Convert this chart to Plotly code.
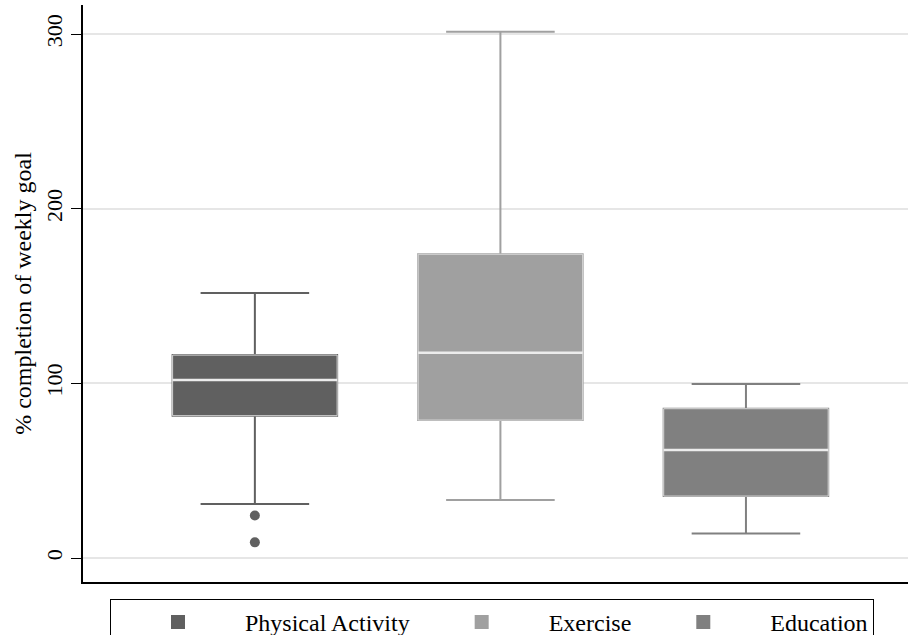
import plotly.graph_objects as go

categories = ["Physical Activity", "Exercise", "Education"]
q1 = [81.5, 79.0, 35.5]
median = [101.9, 117.5, 61.8]
q3 = [116.2, 173.9, 85.5]
lower_whisker = [30.9, 33.2, 14.1]
upper_whisker = [151.7, 301.3, 99.6]
outlier_cat = ["Physical Activity", "Physical Activity"]
outlier_val = [24.4, 9.0]
colors = ["#606060", "#a0a0a0", "#808080"]

FONT = "Liberation Serif, Times New Roman, serif"
BOXW = 0.67

fig = go.Figure()
for i, c in enumerate(categories):
    fig.add_trace(go.Box(
        x=[c], q1=[q1[i]], median=[median[i]], q3=[q3[i]],
        lowerfence=[lower_whisker[i]], upperfence=[upper_whisker[i]],
        name=c, width=BOXW, whiskerwidth=0.66,
        fillcolor=colors[i], line=dict(color=colors[i], width=2),
        boxpoints=False, showlegend=True, hoverinfo="skip",
    ))
for i, c in enumerate(categories):
    fig.add_trace(go.Box(
        x=[c], q1=[q1[i]], median=[median[i]], q3=[q3[i]],
        lowerfence=[q1[i]], upperfence=[q3[i]],
        width=BOXW, whiskerwidth=0, fillcolor="rgba(0,0,0,0)",
        line=dict(color="#d8d8d8", width=1), boxpoints=False,
        showlegend=False, hoverinfo="skip",
    ))
for i, c in enumerate(categories):
    fig.add_trace(go.Box(
        x=[c], q1=[median[i]], median=[median[i]], q3=[median[i]],
        lowerfence=[median[i]], upperfence=[median[i]],
        width=BOXW, whiskerwidth=0, fillcolor="rgba(0,0,0,0)",
        line=dict(color="#ececec", width=2.5), boxpoints=False,
        showlegend=False, hoverinfo="skip",
    ))
fig.add_trace(go.Scatter(
    x=outlier_cat, y=outlier_val, mode="markers",
    marker=dict(color=colors[0], size=10), showlegend=False, hoverinfo="skip",
))

fig.update_layout(
    width=908, height=660,
    margin=dict(l=83, r=0, t=5, b=78),
    paper_bgcolor="white", plot_bgcolor="white",
    font=dict(family=FONT, size=24, color="black"),
    boxmode="overlay",
    legend=dict(
        orientation="h", x=(110 - 83) / 825, xanchor="left", y=-17 / 577, yanchor="top",
        bordercolor="black", borderwidth=1, font=dict(size=24, family=FONT),
        itemwidth=124, tracegroupgap=0,
    ),
)
fig.update_xaxes(
    range=[-0.70, 2.66], showticklabels=False, ticks="", showgrid=False,
    showline=True, linecolor="black", linewidth=1.5, zeroline=False,
    automargin=False,
)
fig.update_yaxes(
    range=[-13.7, 316.6], tickvals=[0, 100, 200, 300], ticks="outside",
    ticklen=10, tickcolor="black", tickwidth=1, tickangle=-90,
    tickfont=dict(size=22, family=FONT),
    showline=True, linecolor="black", linewidth=1.5,
    showgrid=True, gridcolor="#e6e6e6", gridwidth=1.5, zeroline=False,
    automargin=False,
    title=dict(text="% completion of weekly goal", font=dict(size=24, family=FONT), standoff=4),
)
fig.write_html(
    "out.html",
    config={"displayModeBar": False},
    post_script="document.body.style.margin='0px';document.body.style.overflow='hidden';",
)
